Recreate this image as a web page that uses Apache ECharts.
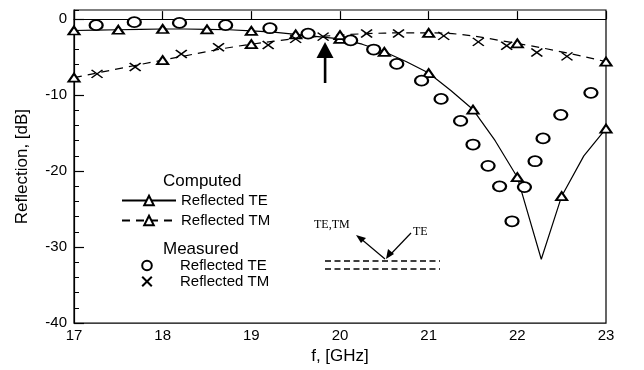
<!DOCTYPE html>
<html><head><meta charset="utf-8">
<script src="https://cdn.jsdelivr.net/npm/echarts@6/dist/echarts.min.js"></script>
<style>html,body{margin:0;padding:0;background:#fff}#c{width:644px;height:370px}</style>
</head><body><div id="c"></div>
<script>
// Axis ticks
const xTicks = [17, 18, 19, 20, 21, 22, 23];
const yTicks = [-40, -30, -20, -10, 0];
// Computed reflected TE (solid line)
const compTE_f  = [17, 17.25, 17.5, 17.75, 18, 18.25, 18.5, 18.75, 19, 19.25, 19.5, 19.75, 20, 20.25, 20.5, 20.75, 21, 21.25, 21.5, 21.75, 22, 22.27, 22.5, 22.75, 23];
const compTE_db = [-1.5, -1.45, -1.4, -1.35, -1.3, -1.3, -1.35, -1.4, -1.55, -1.7, -2.0, -2.3, -2.6, -3.3, -4.3, -5.6, -7.1, -9.4, -11.9, -16.0, -20.8, -31.6, -23.3, -18.0, -14.4];
// Computed reflected TM (dashed line)
const compTM_f  = [17, 18, 19, 20, 21, 22, 23];
const compTM_db = [-7.7, -5.4, -3.3, -2.1, -1.8, -3.2, -5.6];
// Measured reflected TE (circles)
const measTE_f  = [17.25, 17.68, 18.19, 18.71, 19.21, 19.64, 20.12, 20.38, 20.64, 20.92, 21.14, 21.36, 21.5, 21.67, 21.8, 21.94, 22.08, 22.2, 22.29, 22.49, 22.83];
const measTE_db = [-0.8, -0.4, -0.5, -0.8, -1.2, -1.9, -2.8, -4.0, -5.9, -8.1, -10.5, -13.4, -16.5, -19.3, -22.0, -26.6, -22.1, -18.7, -15.7, -12.6, -9.7];
// Measured reflected TM (crosses)
const measTM_f  = [17.26, 17.69, 18.21, 18.63, 19.19, 19.5, 19.81, 20.3, 20.66, 21.17, 21.56, 21.88, 22.22, 22.56];
const measTM_db = [-7.2, -6.3, -4.6, -3.7, -3.4, -2.6, -2.3, -1.9, -1.9, -2.2, -3.0, -3.5, -4.4, -4.9];

const FONT = 'Liberation Sans, Arial, sans-serif';
const SERIF = 'Liberation Serif, Times New Roman, serif';
const CROSS = 'path://M0,0L10,8M10,0L0,8';

const isHalf = f => Math.abs(f * 2 - Math.round(f * 2)) < 1e-6;
const zip = (a, b) => a.map((v, i) => [v, b[i]]);

const chart = echarts.init(document.getElementById('c'), null, {renderer: 'canvas'});
chart.setOption({
  animation: false,
  backgroundColor: '#fff',
  textStyle: {fontFamily: FONT, color: '#000'},
  grid: {left: 74, right: 38, top: 10, bottom: 46, show: true, borderColor: '#000', borderWidth: 1.2, backgroundColor: 'transparent'},
  xAxis: {
    type: 'value', min: xTicks[0], max: xTicks[xTicks.length - 1], interval: 1,
    name: 'f, [GHz]', nameLocation: 'middle', nameGap: 22,
    nameTextStyle: {fontSize: 17, color: '#000', fontFamily: FONT},
    axisLine: {lineStyle: {color: '#000', width: 1.2}},
    axisTick: {inside: true, length: 8, lineStyle: {color: '#000', width: 1.2}},
    axisLabel: {fontSize: 15, color: '#000', margin: 5, fontFamily: FONT},
    splitLine: {show: false}
  },
  yAxis: [{
    type: 'value', min: yTicks[0], max: 1.2, interval: 10,
    name: 'Reflection, [dB]', nameLocation: 'middle', nameGap: 43,
    nameTextStyle: {fontSize: 17, color: '#000', fontFamily: FONT},
    axisLine: {lineStyle: {color: '#000', width: 1.2}},
    axisTick: {inside: true, length: 10, lineStyle: {color: '#000', width: 1.2}},
    axisLabel: {fontSize: 15, color: '#000', margin: 7, showMaxLabel: false, fontFamily: FONT},
    splitLine: {show: false}
  }, {
    type: 'value', min: yTicks[0], max: 1.2, interval: 2, position: 'left',
    axisLine: {show: false},
    axisTick: {inside: true, length: 5, lineStyle: {color: '#000', width: 1}},
    axisLabel: {show: false},
    splitLine: {show: false}
  }],
  legend: [{
    left: 121, top: 193, orient: 'vertical', padding: 0, itemGap: 5,
    itemWidth: 54, itemHeight: 12, selectedMode: false,
    textStyle: {fontSize: 15, color: '#000', fontFamily: FONT},
    formatter: n => n.replace(/^(Computed|Measured) /, ''),
    data: ['Computed Reflected TE', 'Computed Reflected TM']
  }, {
    left: 119, top: 258, orient: 'vertical', padding: 0, itemGap: 1,
    itemWidth: 56, itemHeight: 12, selectedMode: false,
    textStyle: {fontSize: 15, color: '#000', fontFamily: FONT},
    formatter: n => n.replace(/^(Computed|Measured) /, ''),
    data: ['Measured Reflected TE', 'Measured Reflected TM']
  }],
  series: [{
    name: 'Computed Reflected TE', type: 'line', yAxisIndex: 0,
    symbol: 'emptyTriangle', symbolSize: [11, 8], showAllSymbol: true,
    data: compTE_f.map((f, i) => ({value: [f, compTE_db[i]], symbol: isHalf(f) ? 'emptyTriangle' : 'none'})),
    lineStyle: {color: '#000', width: 1.2, type: 'solid'},
    itemStyle: {color: '#000', borderWidth: 1.1}
  }, {
    name: 'Computed Reflected TM', type: 'line', yAxisIndex: 0, smooth: 0.4,
    symbol: 'emptyTriangle', symbolSize: [11, 8], showAllSymbol: true,
    data: zip(compTM_f, compTM_db),
    lineStyle: {color: '#000', width: 1.2, type: [8, 6]},
    itemStyle: {color: '#000', borderWidth: 1.1}
  }, {
    name: 'Measured Reflected TE', type: 'line', yAxisIndex: 0,
    symbol: 'emptyCircle', symbolSize: [13, 10], showAllSymbol: true,
    data: zip(measTE_f, measTE_db),
    lineStyle: {width: 0, opacity: 0},
    itemStyle: {color: '#000', borderColor: '#000', borderWidth: 1.6}
  }, {
    name: 'Measured Reflected TM', type: 'line', yAxisIndex: 0,
    symbol: CROSS, symbolSize: [11, 8], showAllSymbol: true,
    data: zip(measTM_f, measTM_db),
    lineStyle: {width: 0, opacity: 0},
    itemStyle: {color: 'transparent', borderColor: '#000', borderWidth: 1.5}
  }],
  graphic: [
    {type: 'text', left: 163, top: 173, style: {text: 'Computed', font: '17px ' + FONT, fill: '#000'}},
    {type: 'text', left: 163, top: 241, style: {text: 'Measured', font: '17px ' + FONT, fill: '#000'}},
    // big arrow
    {type: 'polygon', shape: {points: [[325, 42], [316.5, 58], [333.5, 58]]}, style: {fill: '#000'}},
    {type: 'rect', shape: {x: 323.8, y: 57, width: 2.6, height: 26}, style: {fill: '#000'}},
    // inset sketch
    {type: 'line', shape: {x1: 325, y1: 261, x2: 440, y2: 261}, style: {stroke: '#000', lineWidth: 1.4, lineDash: [6, 3.5]}},
    {type: 'line', shape: {x1: 325, y1: 269, x2: 440, y2: 269}, style: {stroke: '#000', lineWidth: 1.4, lineDash: [6, 3.5]}},
    {type: 'line', shape: {x1: 385, y1: 259, x2: 360, y2: 238}, style: {stroke: '#000', lineWidth: 1.2}},
    {type: 'polygon', shape: {points: [[356, 235], [366, 238], [361, 243]]}, style: {fill: '#000'}},
    {type: 'line', shape: {x1: 411, y1: 233, x2: 389, y2: 256}, style: {stroke: '#000', lineWidth: 1.2}},
    {type: 'polygon', shape: {points: [[386, 259], [388, 249], [394, 254]]}, style: {fill: '#000'}},
    {type: 'text', left: 314, top: 219, style: {text: 'TE,TM', font: '12px ' + SERIF, fill: '#000'}},
    {type: 'text', left: 413, top: 226, style: {text: 'TE', font: '12px ' + SERIF, fill: '#000'}}
  ]
});
</script></body></html>
